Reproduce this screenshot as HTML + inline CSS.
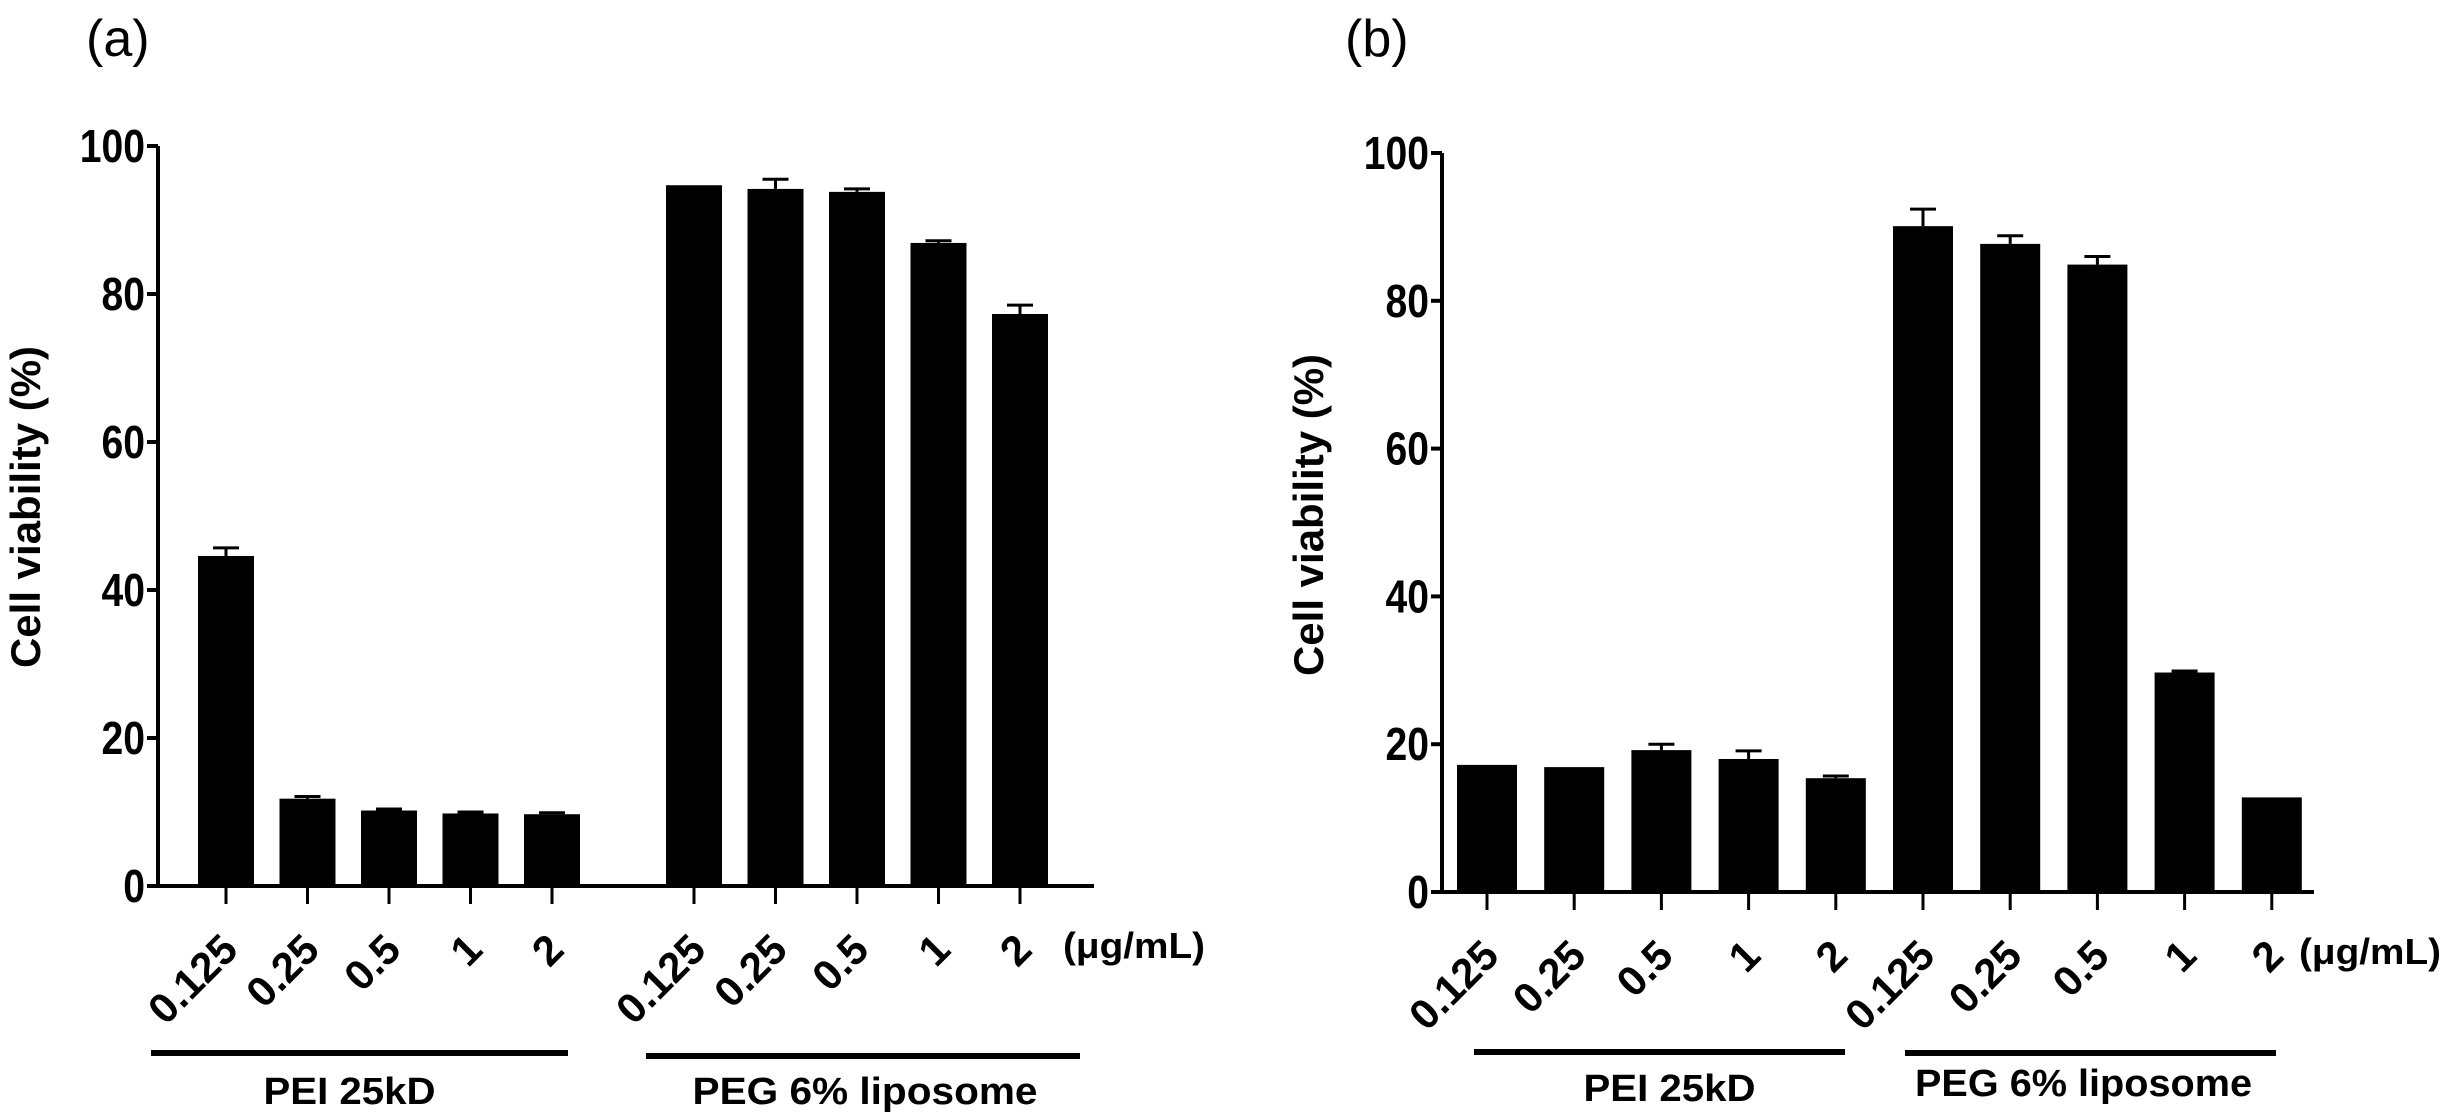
<!DOCTYPE html>
<html><head><meta charset="utf-8"><style>
html,body{margin:0;padding:0;background:#fff;}
svg{display:block;font-family:"Liberation Sans",Arial,sans-serif;}
</style></head><body>
<svg id="fig" width="2443" height="1116" viewBox="0 0 2443 1116" xmlns="http://www.w3.org/2000/svg">
<text x="86" y="56" font-size="52">(a)</text>
<text x="1345" y="56" font-size="52">(b)</text>
</svg>
<script>
const categories = ["0.125","0.25","0.5","1","2"];
const yTicks = [0,20,40,60,80,100];
const aPEI = [44.6, 11.8, 10.2, 9.8, 9.7];
const aPEIerr = [1.1, 0.3, 0.2, 0.2, 0.2];
const aPEG = [94.7, 94.2, 93.8, 86.9, 77.3];
const aPEGerr = [0, 1.3, 0.4, 0.3, 1.2];
const bPEI = [17.2, 16.9, 19.2, 18.0, 15.4];
const bPEIerr = [0, 0, 0.8, 1.1, 0.3];
const bPEG = [90.1, 87.7, 84.9, 29.7, 12.8];
const bPEGerr = [2.3, 1.1, 1.1, 0.2, 0];
const groupNames = ["PEI 25kD","PEG 6% liposome"];

const svg = document.getElementById('fig');
const NS = "http://www.w3.org/2000/svg";
function mk(tag, attrs, parent){
  const e = document.createElementNS(NS, tag);
  for (const k in attrs) e.setAttribute(k, attrs[k]);
  (parent||svg).appendChild(e);
  return e;
}

function panel(p){
  const g = mk('g', {});
  
  
  const y = v => p.y0 - (v/100)*(p.y0 - p.y100);
  const ya = mk('line', {x1:p.ax, y1:p.y100, x2:p.ax, y2:p.y0+2, stroke:'#000','stroke-width':4}, g);
  
  
  const xa = mk('line', {x1:p.ax-10, y1:p.y0, x2:p.xend, y2:p.y0, stroke:'#000','stroke-width':4}, g);
  
  
  yTicks.forEach(t => {
    mk('line', {x1:p.ax-11, y1:y(t), x2:p.ax, y2:y(t), stroke:'#000','stroke-width':4}, g);
    const tl = mk('text', {x:p.ax-13, y:y(t)+16, 'font-size':46, 'font-weight':'bold', 'text-anchor':'end', transform:`translate(${p.ax-13},0) scale(0.85,1) translate(${-(p.ax-13)},0)`}, g);
    tl.textContent = t;
    
    
  });
  const yt = mk('text', {x:0, y:0, 'font-size':42, 'font-weight':'bold', 'text-anchor':'middle', transform:`translate(${p.titleX},${p.titleY}) rotate(-90)`}, g);
  yt.textContent = 'Cell viability (%)';
  
  

  const series = [[p.s1, p.e1, p.c1], [p.s2, p.e2, p.c2]];
  series.forEach((s, gi) => {
    s[0].forEach((v, i) => {
      const cx = s[2] + i*p.step;
      const r = mk('rect', {x:cx-p.bw/2, y:y(v), width:p.bw, height:p.y0-y(v), fill:'#000'}, g);
      
      
      const e = s[1][i];
      if (e > 0) {
        mk('line', {x1:cx, y1:y(v), x2:cx, y2:y(v+e), stroke:'#000','stroke-width':3}, g);
        const cap = mk('line', {x1:cx-13, y1:y(v+e), x2:cx+13, y2:y(v+e), stroke:'#000','stroke-width':3}, g);
        
        
      }
      mk('line', {x1:cx, y1:p.y0, x2:cx, y2:p.y0+18, stroke:'#000','stroke-width':3}, g);
      const lx = cx + 14, ly = p.y0 + 66;
      const tl = mk('text', {x:lx, y:ly, 'font-size':42, 'font-weight':'bold', 'text-anchor':'end', transform:`rotate(-45 ${lx} ${ly})`}, g);
      tl.textContent = categories[i];
      
      
    });
  });
  const unit = mk('text', {x:p.unitX, y:p.y0+72, 'font-size':36, 'font-weight':'bold', 'textLength':142, 'lengthAdjust':'spacingAndGlyphs'}, g);
  unit.textContent = '(μg/mL)';
  
  
  p.groups.forEach((gr, gi) => {
    const l = mk('rect', {x:gr[0], y:gr[2]-3, width:gr[1]-gr[0], height:6, fill:'#000'}, g);
    
    
    const t = mk('text', {x:(gr[0]+gr[1])/2 + gr[4], y:gr[3], 'font-size':38, 'font-weight':'bold', 'text-anchor':'middle', 'textLength':gr[5], 'lengthAdjust':'spacingAndGlyphs'}, g);
    t.textContent = groupNames[gi];
    
    
  });
}

panel({id:'a', ax:158, y0:886, y100:146, xend:1094, bw:56, step:81.5,
  s1:aPEI, e1:aPEIerr, c1:226, s2:aPEG, e2:aPEGerr, c2:694,
  titleX:40, titleY:507, unitX:1063,
  groups:[[151,568,1053,1104,-10,172],[646,1080,1056,1104,2,345]]});
panel({id:'b', ax:1442, y0:892, y100:153, xend:2314, bw:60, step:87.2,
  s1:bPEI, e1:bPEIerr, c1:1487, s2:bPEG, e2:bPEGerr, c2:1923,
  titleX:1323, titleY:515, unitX:2299,
  groups:[[1474,1845,1052,1101,10,172],[1905,2276,1053,1096,-7,337]]});
</script>
</body></html>
